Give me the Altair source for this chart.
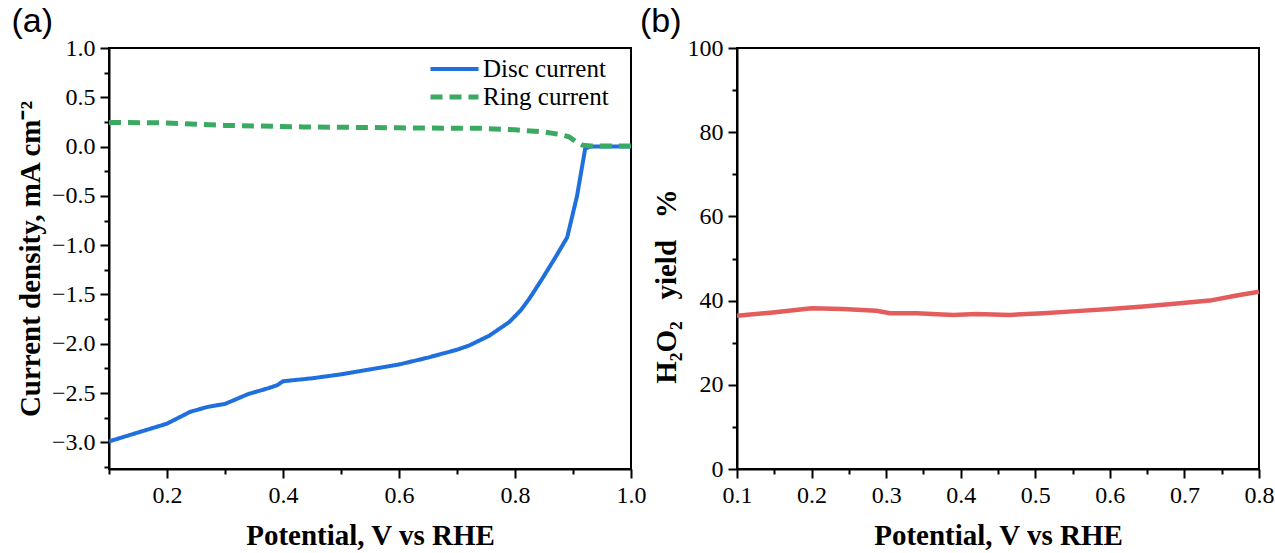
import altair as alt
import pandas as pd

# ---------------- data ----------------
disc_x = [0.10, 0.15, 0.20, 0.22, 0.24, 0.27, 0.30, 0.32, 0.34, 0.375, 0.39, 0.40,
          0.45, 0.50, 0.55, 0.60, 0.65, 0.70, 0.72, 0.755, 0.79, 0.81, 0.825, 0.847,
          0.87, 0.89, 0.907, 0.921, 0.93, 1.00]
disc_y = [-2.99, -2.90, -2.81, -2.75, -2.69, -2.64, -2.61, -2.56, -2.51, -2.45, -2.42, -2.38,
          -2.35, -2.31, -2.26, -2.21, -2.14, -2.06, -2.02, -1.92, -1.78, -1.66, -1.54, -1.34,
          -1.12, -0.92, -0.50, -0.02, 0.0, 0.0]

ring_x = [0.10, 0.20, 0.30, 0.435, 0.60, 0.744, 0.80, 0.847, 0.875, 0.893, 0.905, 0.916, 0.93, 1.00]
ring_y = [0.245, 0.240, 0.215, 0.200, 0.190, 0.185, 0.170, 0.150, 0.125, 0.100, 0.050, 0.015, 0.005, 0.005]

h2o2_x = [0.10, 0.148, 0.20, 0.242, 0.287, 0.305, 0.341, 0.39, 0.421, 0.466, 0.511, 0.555,
          0.60, 0.645, 0.69, 0.734, 0.77, 0.80]
h2o2_y = [36.4, 37.2, 38.2, 38.0, 37.6, 37.0, 37.0, 36.6, 36.8, 36.6, 37.0, 37.5,
          38.0, 38.6, 39.3, 40.0, 41.2, 42.1]

series_names = ["Disc current", "Ring current"]
series_colors = ["#1f6fdc", "#3aaa63"]
h2o2_color = "#e35d5d"

xa_ticks = [0.1, 0.2, 0.3, 0.4, 0.5, 0.6, 0.7, 0.8, 0.9, 1.0]
ya_ticks = [-3.25, -3.0, -2.75, -2.5, -2.25, -2.0, -1.75, -1.5, -1.25, -1.0, -0.75, -0.5,
            -0.25, 0.0, 0.25, 0.5, 0.75, 1.0]
xb_ticks = [0.1, 0.15, 0.2, 0.25, 0.3, 0.35, 0.4, 0.45, 0.5, 0.55, 0.6, 0.65, 0.7, 0.75, 0.8]
yb_ticks = [0, 10, 20, 30, 40, 50, 60, 70, 80, 90, 100]

df_a = pd.DataFrame({
    "x": disc_x + ring_x,
    "y": disc_y + ring_y,
    "series": [series_names[0]] * len(disc_x) + [series_names[1]] * len(ring_x),
})
df_b = pd.DataFrame({"x": h2o2_x, "y": h2o2_y})

SERIF = "Liberation Serif"
W, H = 522, 421


def minor_axis(test, fmt, title, **kw):
    return alt.Axis(
        values=kw.pop("values"),
        labelExpr=f"({test}) ? '' : format(datum.value, '{fmt}')",
        tickSize={"condition": {"test": test, "value": 5}, "value": 9},
        labelFont=SERIF, labelFontSize=24, labelColor="black",
        title=title,
        **kw,
    )


def panel_title(text, dx):
    return alt.TitleParams(text, anchor="start", frame="bounds", font="Liberation Sans",
                           fontSize=34, fontWeight="normal", color="black", offset=-3, dx=dx)


# ---------------- panel (a) ----------------
xa_test = "abs(datum.value*5 - round(datum.value*5)) > 0.01"
ya_test = "abs(datum.value*2 - round(datum.value*2)) > 0.01"
leg = alt.Legend(title=None, orient="none", legendX=319, legendY=7)

panel_a = alt.Chart(df_a, title=panel_title("(a)", -5)).mark_line().encode(
    x=alt.X("x:Q", scale=alt.Scale(domain=[0.1, 1.0], nice=False, zero=False),
            axis=minor_axis(xa_test, ".1f", "Potential, V vs RHE", values=xa_ticks)),
    y=alt.Y("y:Q", scale=alt.Scale(domain=[-3.27, 1.0], nice=False, zero=False),
            axis=minor_axis(ya_test, ".1f", "Current density, mA cm\u207b\u00b2", values=ya_ticks)),
    color=alt.Color("series:N", scale=alt.Scale(domain=series_names, range=series_colors), legend=leg),
    strokeDash=alt.StrokeDash("series:N", scale=alt.Scale(domain=series_names, range=[[1, 0], [12, 7]]),
                              legend=leg),
    strokeWidth=alt.StrokeWidth("series:N", scale=alt.Scale(domain=series_names, range=[4, 5]),
                                legend=None),
).properties(width=W, height=H)

# ---------------- panel (b) ----------------
xb_test = "abs(datum.value*10 - round(datum.value*10)) > 0.01"
yb_test = "abs(datum.value/20 - round(datum.value/20)) > 0.01"

panel_b = alt.Chart(df_b, title=panel_title("(b)", -12)).mark_line(
    color=h2o2_color, strokeWidth=4.5).encode(
    x=alt.X("x:Q", scale=alt.Scale(domain=[0.1, 0.8], nice=False, zero=False),
            axis=minor_axis(xb_test, ".1f", "Potential, V vs RHE", values=xb_ticks)),
    y=alt.Y("y:Q", scale=alt.Scale(domain=[0, 100], nice=False, zero=False),
            axis=minor_axis(yb_test, "d", "H\u2082O\u2082\u00a0\u00a0\u00a0yield\u00a0\u00a0\u00a0%",
                            values=yb_ticks, titleY=238)),
).properties(width=W, height=H)

chart = alt.hconcat(panel_a, panel_b, spacing=106, bounds="flush").properties(
    padding={"left": 10, "top": 4, "right": 0, "bottom": 0}, background="white"
).configure_view(
    stroke="black", strokeWidth=2
).configure_axis(
    domainColor="black", domainWidth=2, tickColor="black", tickWidth=2,
    labelFont=SERIF, labelFontSize=24, labelColor="black", labelPadding=5,
    labelFlush=False, labelOverlap=False,
    titleFont=SERIF, titleFontSize=29, titleFontWeight="bold", titleColor="black",
    grid=False,
).configure_axisX(titlePadding=14).configure_axisY(titlePadding=6).configure_legend(
    labelFont=SERIF, labelFontSize=25, labelColor="black", symbolType="stroke",
    symbolSize=2304, symbolStrokeWidth=4, rowPadding=0, clipHeight=28, labelOffset=2, padding=0,
)

chart.save("out.html", embed_options={"renderer": "svg", "actions": False})
